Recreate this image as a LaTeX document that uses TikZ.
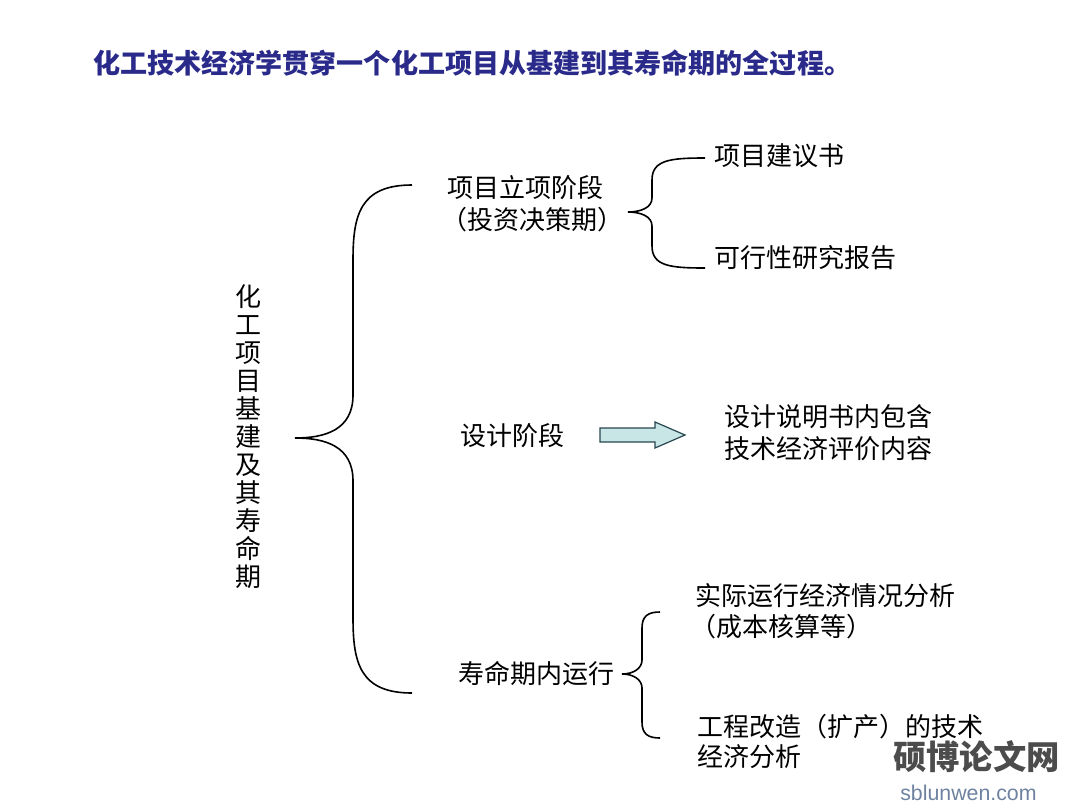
\documentclass[tikz,border=0pt]{standalone}
\usepackage{fontspec}
\setmainfont{Noto Sans CJK SC}
\newfontfamily\latinf{Liberation Sans}
\begin{document}
\begin{tikzpicture}[x=0.75pt,y=-0.75pt,
  txt/.style={anchor=west,inner sep=0pt,font=\fontsize{19.5}{24}\selectfont},
  br/.style={line width=1.2pt}]
\useasboundingbox (0,0) rectangle (1080,810);
\definecolor{navy}{HTML}{2A2A8A}
\node[txt,anchor=west,text=navy,font=\fontsize{20.3}{24}\selectfont\bfseries] (title) at (93,63) {化工技术经济学贯穿一个化工项目从基建到其寿命期的全过程。};
% big brace
\coordinate (bt) at (412,185); \coordinate (bb) at (412,693); \coordinate (btip) at (295,438);
\draw[br] (bt) .. controls (360,185) and (353,215) .. (353,260) -- (353,395)
  .. controls (353,430) and (325,438) .. (btip)
  .. controls (325,438) and (353,446) .. (353,481) -- (353,618)
  .. controls (353,663) and (360,693) .. (bb);
\node[inner sep=0pt,align=center,font=\fontsize{19.5}{21}\selectfont] (v) at (248,437) {化\\工\\项\\目\\基\\建\\及\\其\\寿\\命\\期};
% stage 1
\node[txt] (s1) at (447,188) {项目立项阶段};
\node[txt] (s1b) at (441,220) {（投资决策期）};
\draw[br] (705,158) .. controls (670,158) and (652,160) .. (652,180) -- (652,198)
  .. controls (652,208) and (640,212) .. (628,212)
  .. controls (640,212) and (652,216) .. (652,226) -- (652,246)
  .. controls (652,266) and (670,268) .. (705,268);
\node[txt] (a1) at (714,156) {项目建议书};
\node[txt] (a2) at (714,258) {可行性研究报告};
% stage 2
\node[txt] (s2) at (460,436) {设计阶段};
\draw[fill={rgb,255:red,200;green,230;blue,230},draw={rgb,255:red,40;green,70;blue,80},line width=0.9pt]
  (600,428) -- (655,428) -- (655,422) -- (685,435) -- (655,448) -- (655,442) -- (600,442) -- cycle;
\node[txt] (d1) at (724,417) {设计说明书内包含};
\node[txt] (d2) at (724,449) {技术经济评价内容};
% stage 3
\node[txt] (s3) at (458,674) {寿命期内运行};
\draw[br] (660,612) .. controls (648,612) and (642,616) .. (642,628) -- (642,660)
  .. controls (642,668) and (634,674) .. (622,674)
  .. controls (634,674) and (642,680) .. (642,688) -- (642,722)
  .. controls (642,734) and (648,738) .. (660,738);
\node[txt] (r1) at (695,596) {实际运行经济情况分析};
\node[txt] (r2) at (690,627) {（成本核算等）};
\node[txt] (r3) at (697,727) {工程改造（扩产）的技术};
\node[txt] (r4) at (697,757) {经济分析};
% watermark
\node[anchor=west,inner sep=0pt,text=black!70,font=\fontsize{25}{30}\selectfont\bfseries] (wm) at (893,757) {硕博论文网};
\node[anchor=west,inner sep=0pt,text={rgb,255:red,110;green,130;blue,160},font=\fontsize{16}{18}\selectfont\latinf] (wm2) at (900,793) {sblunwen.com};
\end{tikzpicture}
\end{document}
